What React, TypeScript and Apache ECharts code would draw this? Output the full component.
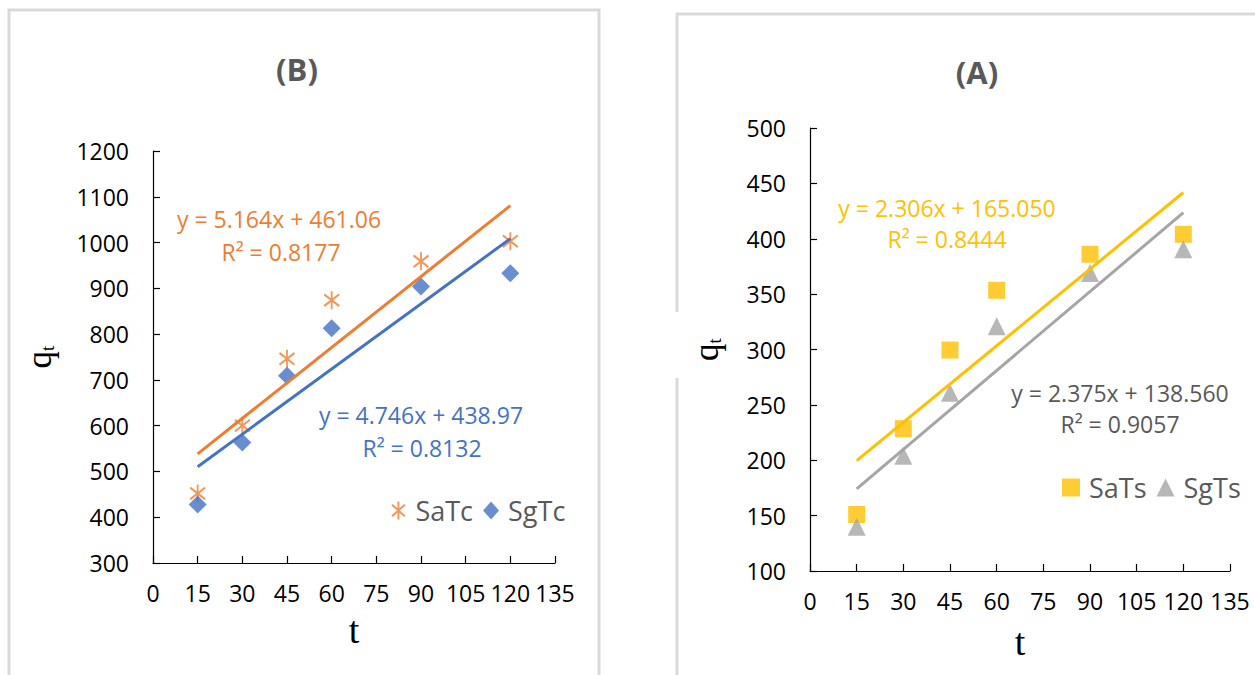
import React, { useEffect, useRef } from "react";
import * as echarts from "echarts";

// ---------- data ----------
const tValues = [15, 30, 45, 60, 90, 120];

// Panel (B)
const saTc = [452, 600, 746, 874, 959, 1003];
const sgTc = [428, 563, 709, 813, 904, 933];
const saTcFit = [5.164, 461.06];
const sgTcFit = [4.746, 438.97];
const saTcLabel = ["y = 5.164x + 461.06", "R² = 0.8177"];
const sgTcLabel = ["y = 4.746x + 438.97", "R² = 0.8132"];

// Panel (A)
const saTs = [151, 228.5, 299.5, 353.5, 386, 404];
const sgTs = [140, 204, 261, 321, 369, 390.5];
const saTsFit = [2.306, 165.05];
const sgTsFit = [2.375, 138.56];
const saTsLabel = ["y = 2.306x + 165.050", "R² = 0.8444"];
const sgTsLabel = ["y = 2.375x + 138.560", "R² = 0.9057"];

const xAxisTicks = { min: 0, max: 135, interval: 15 };
const yAxisB = { min: 300, max: 1200, interval: 100 };
const yAxisA = { min: 100, max: 500, interval: 50 };

// ---------- styles ----------
const ORANGE = "#ED7D31";
const BLUE = "#4472C4";
const GOLD = "#FFC000";
const GRAY = "#A5A5A5";
const DARK = "#595959";
const SANS = "'Open Sans'";
const SERIF = "'Liberation Serif'";

const ASTERISK = "path://M5,0 L5,14 M0,2.5 L10,11.5 M10,2.5 L0,11.5";

const pts = (ys: number[]) => tValues.map((t, i) => [t, ys[i]]);
const trend = (fit: number[]) => {
  const a = tValues[0];
  const b = tValues[tValues.length - 1];
  return [
    [a, fit[0] * a + fit[1]],
    [b, fit[0] * b + fit[1]],
  ];
};

function makeXAxis(gridIndex: number, nameGap: number) {
  return {
    type: "value",
    gridIndex,
    min: xAxisTicks.min,
    max: xAxisTicks.max,
    interval: xAxisTicks.interval,
    axisLine: { show: true, onZero: false, lineStyle: { color: "#000", width: 1.2 } },
    axisTick: { show: true, inside: true, length: 7, lineStyle: { color: "#000", width: 1.2 } },
    splitLine: { show: false },
    axisLabel: {
      color: "#000",
      fontSize: 23,
      fontFamily: SANS,
      margin: 18,
      formatter: (v: number) => String(v),
    },
    name: "t",
    nameLocation: "middle",
    nameGap,
    nameTextStyle: { color: "#000", fontSize: 38, fontFamily: SERIF },
  };
}

function makeYAxis(gridIndex: number, r: { min: number; max: number; interval: number }, nameGap: number) {
  return {
    type: "value",
    gridIndex,
    min: r.min,
    max: r.max,
    interval: r.interval,
    axisLine: { show: true, onZero: false, lineStyle: { color: "#000", width: 1.2 } },
    axisTick: { show: true, inside: true, length: 7, lineStyle: { color: "#000", width: 1.2 } },
    splitLine: { show: false },
    axisLabel: {
      color: "#000",
      fontSize: 23,
      fontFamily: SANS,
      margin: 24,
      formatter: (v: number) => String(v),
    },
    name: "{q|q}{t|t}",
    nameLocation: "middle",
    nameRotate: 90,
    nameGap,
    nameTextStyle: {
      color: "#000",
      rich: {
        q: { fontSize: 35, fontFamily: SERIF, color: "#000", verticalAlign: "bottom" },
        t: { fontSize: 19, fontFamily: SERIF, color: "#000", verticalAlign: "bottom" },
      },
    },
  };
}

function eqText(x: number, y: number, text: string, color: string) {
  return {
    type: "text",
    x,
    y,
    silent: true,
    style: { text, fill: color, font: `23px ${SANS}`, align: "center", verticalAlign: "middle" },
  };
}

export default function App() {
  const ref = useRef<HTMLDivElement>(null);

  useEffect(() => {
    if (!ref.current) return;
    const chart = echarts.init(ref.current, undefined, { renderer: "svg" });

    const legendText = { color: DARK, fontSize: 27, fontFamily: SANS, padding: [0, 0, 0, 4] };

    chart.setOption({
      animation: false,
      backgroundColor: "#fff",
      grid: [
        { left: 153, top: 151, width: 402, height: 412 },
        { left: 810, top: 128, width: 420, height: 443 },
      ],
      xAxis: [makeXAxis(0, 48), makeXAxis(1, 52)],
      yAxis: [makeYAxis(0, yAxisB, 96), makeYAxis(1, yAxisA, 86)],
      legend: [
        {
          data: ["SaTc", "SgTc"],
          left: 386,
          top: 492,
          itemWidth: 16,
          itemHeight: 18,
          itemGap: 10,
          textStyle: legendText,
        },
        {
          data: ["SaTs", "SgTs"],
          left: 1057,
          top: 469,
          itemWidth: 18,
          itemHeight: 18,
          itemGap: 10,
          textStyle: legendText,
        },
      ],
      graphic: [
        {
          type: "rect",
          silent: true,
          shape: { x: 9, y: 10, width: 590, height: 700 },
          style: { fill: "none", stroke: "#d9d9d9", lineWidth: 3 },
        },
        {
          type: "rect",
          silent: true,
          shape: { x: 677, y: 14, width: 620, height: 700 },
          style: { fill: "none", stroke: "#d9d9d9", lineWidth: 3 },
        },
        {
          type: "rect",
          silent: true,
          shape: { x: 674, y: 312, width: 7, height: 66 },
          style: { fill: "#fff" },
        },
        {
          type: "text",
          x: 297,
          y: 69,
          silent: true,
          style: { text: "(B)", fill: DARK, font: `bold 31px ${SANS}`, align: "center", verticalAlign: "middle" },
        },
        {
          type: "text",
          x: 977,
          y: 72,
          silent: true,
          style: { text: "(A)", fill: DARK, font: `bold 31px ${SANS}`, align: "center", verticalAlign: "middle" },
        },
        eqText(279, 219, saTcLabel[0], ORANGE),
        eqText(281, 252, saTcLabel[1], ORANGE),
        eqText(421, 415, sgTcLabel[0], BLUE),
        eqText(422, 448, sgTcLabel[1], BLUE),
        eqText(947, 208, saTsLabel[0], GOLD),
        eqText(947, 239, saTsLabel[1], GOLD),
        eqText(1120, 393, sgTsLabel[0], DARK),
        eqText(1120, 424, sgTsLabel[1], DARK),
      ],
      series: [
        {
          name: "SaTc",
          type: "scatter",
          xAxisIndex: 0,
          yAxisIndex: 0,
          data: pts(saTc),
          symbol: ASTERISK,
          symbolSize: [15, 18],
          itemStyle: { color: "rgba(0,0,0,0)", borderColor: ORANGE, borderWidth: 2 },
          z: 2,
        },
        {
          name: "SgTc",
          type: "scatter",
          xAxisIndex: 0,
          yAxisIndex: 0,
          data: pts(sgTc),
          symbol: "diamond",
          symbolSize: 18,
          itemStyle: { color: BLUE },
          z: 2,
        },
        {
          name: "SaTc trend",
          type: "line",
          xAxisIndex: 0,
          yAxisIndex: 0,
          data: trend(saTcFit),
          symbol: "none",
          silent: true,
          lineStyle: { color: ORANGE, width: 3 },
          z: 3,
        },
        {
          name: "SgTc trend",
          type: "line",
          xAxisIndex: 0,
          yAxisIndex: 0,
          data: trend(sgTcFit),
          symbol: "none",
          silent: true,
          lineStyle: { color: BLUE, width: 3 },
          z: 3,
        },
        {
          name: "SaTs",
          type: "scatter",
          xAxisIndex: 1,
          yAxisIndex: 1,
          data: pts(saTs),
          symbol: "rect",
          symbolSize: 17,
          itemStyle: { color: GOLD },
          z: 2,
        },
        {
          name: "SgTs",
          type: "scatter",
          xAxisIndex: 1,
          yAxisIndex: 1,
          data: pts(sgTs),
          symbol: "triangle",
          symbolSize: 18,
          itemStyle: { color: GRAY },
          z: 2,
        },
        {
          name: "SaTs trend",
          type: "line",
          xAxisIndex: 1,
          yAxisIndex: 1,
          data: trend(saTsFit),
          symbol: "none",
          silent: true,
          lineStyle: { color: GOLD, width: 3 },
          z: 3,
        },
        {
          name: "SgTs trend",
          type: "line",
          xAxisIndex: 1,
          yAxisIndex: 1,
          data: trend(sgTsFit),
          symbol: "none",
          silent: true,
          lineStyle: { color: GRAY, width: 3 },
          z: 3,
        },
      ],
    });

    return () => chart.dispose();
  }, []);

  return (
    <div
      ref={ref}
      style={{ position: "fixed", left: 0, top: 0, width: 1255, height: 675, background: "#fff" }}
    />
  );
}
